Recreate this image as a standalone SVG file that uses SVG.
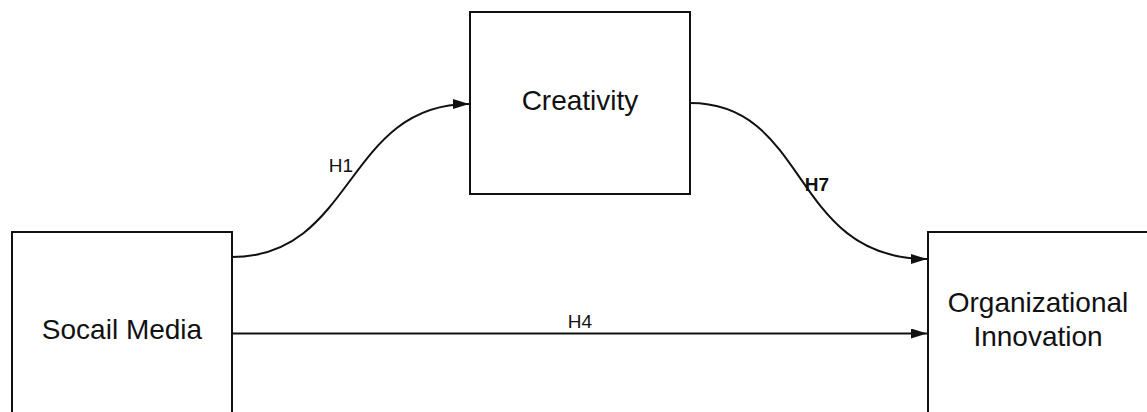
<svg xmlns="http://www.w3.org/2000/svg" width="1147" height="412" viewBox="0 0 1147 412">
<style>
.box{fill:#fff;stroke:#111;stroke-width:2}
.node{font-family:"Liberation Sans",Arial,sans-serif;font-size:28px;fill:#111;text-anchor:middle}
.conn{fill:none;stroke:#111;stroke-width:2}
.lbl{font-family:"Liberation Sans",Arial,sans-serif;font-size:19px;fill:#111;text-anchor:middle}
</style>
<defs>
<marker id="arr" viewBox="0 0 16 10" refX="16" refY="5" markerWidth="16" markerHeight="10" markerUnits="userSpaceOnUse" orient="auto">
<path d="M0,0 L16,5 L0,10 z" fill="#111"/>
</marker>
</defs>
<rect width="1147" height="412" fill="#fff"/>
<g id="socail-media">
<rect class="box" x="12" y="232" width="220" height="190"/>
<text class="node" x="122" y="339">Socail Media</text>
</g>
<g id="creativity">
<rect class="box" x="470" y="12" width="220" height="182"/>
<text class="node" x="580" y="110">Creativity</text>
</g>
<g id="organizational-innovation">
<rect class="box" x="928" y="232" width="230" height="190"/>
<text class="node" x="1038" y="312">Organizational</text>
<text class="node" x="1038" y="346">Innovation</text>
</g>
<g id="connectors">
<path class="conn" d="M232,257 C355,257 345,104 469,104" marker-end="url(#arr)"/>
<path class="conn" d="M690,103 C810,103 790,259 927,259" marker-end="url(#arr)"/>
<path class="conn" d="M232,333.5 L927,333.5" marker-end="url(#arr)"/>
<text class="lbl" x="341" y="172">H1</text>
<text class="lbl" x="817" y="191" font-weight="bold" font-size="21">H7</text>
<text class="lbl" x="580" y="328">H4</text>
</g>
</svg>
